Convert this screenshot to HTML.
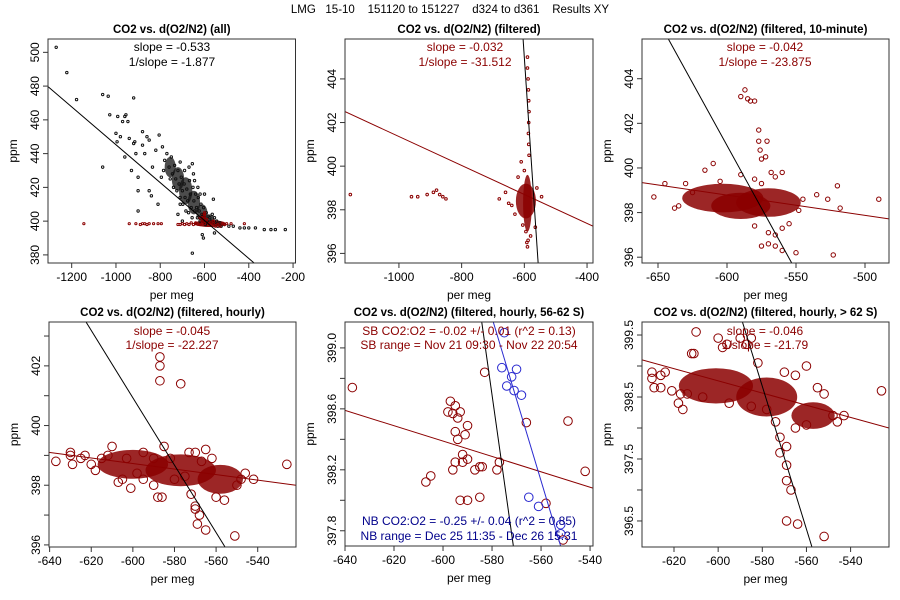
<!DOCTYPE html>
<html><head><meta charset="utf-8">
<style>
body{margin:0;background:#fff;}
svg{display:block;font-family:"Liberation Sans",Arial,sans-serif;}
</style></head>
<body>
<svg id="chart" width="900" height="600" viewBox="0 0 900 600">
<text x="450" y="13" text-anchor="middle" font-size="11.5" fill="#000" xml:space="preserve">LMG   15-10    151120 to 151227    d324 to d361    Results XY</text>
</svg>
<script>
// ---------- data ----------
const p1Black = [[-1270,503],[-1222,488],[-1178,472],[-1060,475],[-1035,474],[-920,473],[-1028,463],[-992,462],[-960,462],[-955,463],[-970,459],[-946,459],[-1000,452],[-980,450],[-880,453],[-850,448],[-860,450],[-805,451],[-995,447],[-940,449],[-920,446],[-915,447],[-880,445],[-870,440],[-820,442],[-790,444],[-960,438],[-910,440],[-1060,432],[-930,430],[-900,426],[-900,418],[-850,418],[-840,415],[-810,410],[-785,430],[-795,426],[-835,432],[-655,434],[-600,416],[-560,413],[-900,406],[-710,410],[-720,404],[-700,400],[-610,392],[-605,390],[-555,393],[-655,381],[-470,397],[-440,396],[-420,396],[-400,396],[-370,396],[-330,395],[-300,395],[-280,395],[-235,395],[-510,398],[-490,397],
[-780,436],[-770,440],[-760,432],[-755,425],[-750,438],[-745,428],[-740,420],[-735,433],[-730,425],[-725,418],[-720,430],[-715,422],[-710,414],[-705,426],[-700,418],[-698,410],[-692,422],[-688,414],[-684,406],[-680,419],[-676,412],[-672,405],[-668,424],[-664,416],[-660,408],[-656,402],[-652,420],[-648,412],[-644,406],[-640,416],[-636,408],[-632,402],[-628,414],[-624,406],[-620,400],[-616,410],[-612,404],[-608,400],[-604,408],[-600,402],[-596,398],[-592,405],[-588,400],[-584,403],[-580,399],[-576,402],[-570,400],[-565,404],[-560,399],[-555,402],[-550,398],[-545,400],[-540,397],[-530,399],[-525,397],[-690,430],[-710,435],[-650,428],[-670,432],[-630,420],[-620,416],[-645,424]];
const p1BlackBlobs = [[-755,432,25,6],[-720,425,28,7],[-685,418,30,8],[-648,411,28,7],[-612,405,25,5],[-575,401,20,3]];
const p1Red = [[-1145,398.5],[-940,398.5],[-910,398.5],[-890,398],[-880,398.5],[-870,398.5],[-860,398],[-850,398.5],[-830,398.5],[-810,398.5],[-795,398.5],[-700,398.5],[-680,398.5],[-660,399],[-640,398.5],[-620,398],[-600,398.5],[-580,398.5],[-560,398.5],[-540,398],[-520,398.5],[-500,398.5],[-480,398.5],[-420,398.5],[-600,404],[-600,402],[-600,405],[-590,401],[-610,400],[-620,402],[-575,399],[-560,400],[-550,397],[-530,397],[-510,398],[-640,399],[-650,398],[-670,398],[-690,398],[-710,398],[-720,398]];
const p1RedBlobs = [[-575,398.5,72,2],[-605,402,12,3]];

const p2Red = [[-1155,398.7],[-960,398.6],[-940,398.6],[-910,398.7],[-890,398.8],[-880,398.9],[-870,398.7],[-860,398.6],[-850,398.5],[-680,398.5],[-660,398.8],[-650,398.3],[-640,398.2],[-630,397.8],[-620,399.5],[-590,405],[-590,404.5],[-588,404],[-587,403.5],[-586,403],[-585,402.5],[-586,402],[-587,401.5],[-586,401],[-585,400.5],[-592,396.5],[-590,396.3],[-588,396.6],[-595,397],[-580,396.8],[-565,397.2],[-545,398.6],[-610,400.2],[-605,397.3],[-600,399.8],[-560,399]];
const p2RedBlobs = [[-595,398.4,32,0.8],[-590,398.3,14,1.3]];

const p3Red = [[-653,398.7],[-645,399.3],[-630,399.3],[-635,398.3],[-616,399.9],[-610,400.2],[-605,399.4],[-590,399.7],[-580,399.5],[-575,399.3],[-587,403.5],[-590,403.2],[-585,403.1],[-583,403.0],[-580,403.0],[-577,401.7],[-577,401.2],[-576,400.8],[-571,401.2],[-572,400.5],[-575,400.4],[-568,399.8],[-565,399.6],[-560,399.8],[-545,398.6],[-535,398.8],[-527,398.6],[-520,399.2],[-518,398.2],[-490,398.6],[-548,398.1],[-555,397.5],[-560,397.3],[-575,396.5],[-570,396.6],[-565,396.5],[-560,396.3],[-550,396.2],[-523,396.1],[-580,397.4],[-570,397.1],[-565,397.0],[-638,398.2],[-625,398.9]];
const p3RedBlobs = [[-603,398.65,28,0.55],[-570,398.45,22,0.55],[-590,398.3,20,0.5]];

const p4Red = [[-637,398.8],[-630,399.1],[-630,399],[-629,398.7],[-625,398.9],[-623,399],[-620,398.7],[-618,398.5],[-615,398.9],[-612,399],[-610,399.3],[-607,398.1],[-605,398.2],[-601,397.9],[-587,401.5],[-587,402.3],[-587,402.0],[-577,401.4],[-585,399.3],[-582,398.9],[-573,399.1],[-570,399.1],[-565,399.2],[-562,398.9],[-567,398.8],[-575,398.3],[-572,397.7],[-570,397.3],[-570,397.2],[-568,397.0],[-565,396.5],[-569,396.7],[-551,396.3],[-560,397.6],[-556,397.5],[-548,398.2],[-542,398.2],[-526,398.7],[-550,398.0],[-546,398.4],[-590,398.0],[-595,398.2],[-598,398.4],[-588,397.6],[-586,397.6],[-580,398.2],[-603,398.9],[-595,399.1],[-590,398.9]];
const p4RedBlobs = [[-600,398.7,15,0.35],[-577,398.5,15,0.4],[-558,398.2,9,0.35]];

const p5Red = [[-637,398.74],[-597,398.65],[-595,398.62],[-598,398.58],[-596,398.57],[-593,398.58],[-594,398.54],[-590,398.49],[-595,398.45],[-591,398.43],[-594,398.4],[-592,398.3],[-595,398.25],[-592,398.25],[-590,398.27],[-596,398.2],[-587,398.2],[-585,398.22],[-584,398.22],[-578,398.2],[-577,398.25],[-583,398.84],[-566,398.51],[-549,398.52],[-542,398.19],[-607,398.12],[-605,398.16],[-593,398.0],[-590,398.0],[-585,398.02],[-558,397.98],[-551,397.74]];
const p5Blue = [[-576,398.87],[-570,398.86],[-572,398.81],[-574,398.75],[-571,398.72],[-568,398.69],[-575,399.1],[-565,398.02],[-561,397.96],[-552,397.84],[-552,397.78]];

const p6Red = [[-630,398.9],[-630,398.8],[-626,398.85],[-624,398.9],[-629,398.65],[-626,398.65],[-621,398.6],[-618,398.4],[-617,398.55],[-616,398.3],[-614,398.55],[-610,399.55],[-612,399.2],[-611,399.2],[-600,399.45],[-598,399.3],[-596,399.35],[-590,399.45],[-587,399.35],[-585,399.45],[-582,399.05],[-570,398.9],[-565,398.85],[-560,399.0],[-555,398.65],[-552,398.55],[-548,398.2],[-546,398.1],[-543,398.2],[-526,398.6],[-574,398.1],[-572,397.85],[-569,397.7],[-572,397.6],[-569,397.4],[-569,397.15],[-567,397.0],[-569,396.5],[-564,396.45],[-552,396.25],[-578,398.3],[-595,398.4],[-607,398.5],[-585,398.35],[-565,398.0],[-560,398.05]];
const p6RedBlobs = [[-601,398.68,15,0.22],[-578,398.5,12,0.25],[-557,398.2,8,0.15]];

// fit lines: [x1,y1,x2,y2] in data units
const p1Line = [-1307,479.7,-376,375.2];
const p2RedLine = [-1172,402.5,-381,397.25];
const p2BlackLine = [-604,405.83,-556,395.56];
const p3RedLine = [-661.6,399.34,-482.6,397.72];
const p3BlackLine = [-642.5,405.78,-553.1,395.74];
const p4RedLine = [-640.3,399.1,-521.6,398.0];
const p4BlackLine = [-622.5,403.47,-555.7,395.93];
const p5RedLine = [-640,398.59,-538.8,398.08];
const p5BlackLine = [-584.2,399.17,-571.3,397.70];
const p5BlueLine = [-579.5,399.17,-552.0,397.70];
const p6RedLine = [-634.5,399.10,-522.6,398.0];
const p6BlackLine = [-589,399.71,-557.5,396.08];

// ---------- drawing ----------
const NS='http://www.w3.org/2000/svg';
const svg=document.getElementById('chart');
const RED='#8b0000', BLUE='#2a2ad0';
function el(tag,attrs,parent){const e=document.createElementNS(NS,tag);for(const k in attrs)e.setAttribute(k,attrs[k]);(parent||svg).appendChild(e);return e;}

function panel(cfg){
  const g=el('g',{});
  
  
  const {L,R,T,B,x0,x1,y0,y1}=cfg;
  const sx=v=>L+(v-x0)/(x1-x0)*(R-L);
  const sy=v=>B-(v-y0)/(y1-y0)*(B-T);
  const cp='cp'+cfg.name;
  const defs=el('defs',{},g);
  const c=el('clipPath',{id:cp},defs);el('rect',{x:L,y:T,width:R-L,height:B-T},c);
  const plot=el('g',{'clip-path':'url(#'+cp+')'},g);
  (cfg.blobs||[]).forEach(b=>{
    const e=el('ellipse',{cx:sx(b[1][0]),cy:sy(b[1][1]),rx:b[1][2]/(x1-x0)*(R-L)+(cfg.pad||0),ry:b[1][3]/(y1-y0)*(B-T)+(cfg.pad||0),fill:b[0],opacity:b[2]||0.85},plot);
    
    
  });
  (cfg.points||[]).forEach(s=>{
    s.data.forEach(p=>{
      const ci=el('circle',{cx:sx(p[0]),cy:sy(p[1]),r:s.r,fill:s.fill||'none',stroke:s.color,'stroke-width':s.sw||1},plot);
      
      
    });
  });
  (cfg.lines||[]).forEach(ln=>{
    const d=ln[1];
    const l=el('line',{x1:sx(d[0]),y1:sy(d[1]),x2:sx(d[2]),y2:sy(d[3]),stroke:ln[0],'stroke-width':1},plot);
    
    
  });
  const box=el('rect',{x:L,y:T,width:R-L,height:B-T,fill:'none',stroke:'#333','stroke-width':1},g);
  
  
  cfg.xticks.forEach(v=>{
    const x=sx(v);
    el('line',{x1:x,y1:B,x2:x,y2:B+5,stroke:'#333'},g);
    const t=el('text',{x:x,y:B+18,'text-anchor':'middle','font-size':12},g);
    t.textContent=v;
    
    
  });
  cfg.yticks.forEach(v=>{
    const y=sy(v);
    el('line',{x1:L,y1:y,x2:L-5,y2:y,stroke:'#333'},g);
  });
  cfg.ylabels.forEach(v=>{
    const y=sy(+v);
    const t=el('text',{x:L-9,y:y,'text-anchor':'middle','font-size':12,transform:'rotate(-90 '+(L-9)+' '+y+')'},g);
    t.textContent=v;
    
    
  });
  const cx=(L+R)/2;
  const tt=el('text',{x:cx,y:T-6,'text-anchor':'middle','font-size':11.5,'font-weight':'bold'},g);
  tt.textContent=cfg.title;
  
  
  const xl=el('text',{x:cx,y:B+36,'text-anchor':'middle','font-size':12},g);
  xl.textContent='per meg';
  
  
  const yl=el('text',{x:L-31,y:(T+B)/2,'text-anchor':'middle','font-size':12,transform:'rotate(-90 '+(L-31)+' '+((T+B)/2)+')'},g);
  yl.textContent='ppm';
  
  
  (cfg.notes||[]).forEach(n=>{
    const a=el('text',{x:n[3]||cx,y:n[1],'text-anchor':'middle','font-size':12,fill:n[2]},g);
    a.textContent=n[0];
    
    
  });
}
const rng=(a,b,s)=>{const r=[];for(let v=a;v<=b+1e-9;v+=s)r.push(+v.toFixed(2));return r;};

panel({name:'panel-all',L:48,R:295.5,T:39,B:263,x0:-1307,x1:-189,y0:375.2,y1:507.9,
  xticks:rng(-1200,-200,200),yticks:rng(380,500,20),ylabels:['380','400','420','440','460','480','500'],
  title:'CO2 vs. d(O2/N2) (all)',
  blobs:[...p1BlackBlobs.map(b=>['#111',b,0.75]),...p1RedBlobs.map(b=>[RED,b,0.95])],
  points:[{data:p1Black,color:'#111',r:1.2},{data:p1Red,color:RED,r:1.1}],
  lines:[['#000',p1Line]],
  notes:[['slope = -0.533',51,'#000',172],['1/slope = -1.877',66,'#000',172]]});

panel({name:'panel-filtered',L:345,R:593,T:39,B:263,x0:-1172,x1:-381,y0:395.56,y1:405.83,
  xticks:rng(-1000,-400,200),yticks:rng(396,404,2),ylabels:['396','398','400','402','404'],
  title:'CO2 vs. d(O2/N2) (filtered)',
  blobs:p2RedBlobs.map(b=>[RED,b]),
  points:[{data:p2Red,color:RED,r:1.3}],
  lines:[[RED,p2RedLine],['#000',p2BlackLine]],
  notes:[['slope = -0.032',51,RED,465],['1/slope = -31.512',66,RED,465]]});

panel({name:'panel-10-minute',L:642,R:889,T:39,B:263,x0:-661.6,x1:-482.6,y0:395.74,y1:405.78,pad:2,
  xticks:rng(-650,-500,50),yticks:rng(396,404,2),ylabels:['396','398','400','402','404'],
  title:'CO2 vs. d(O2/N2) (filtered, 10-minute)',
  blobs:p3RedBlobs.map(b=>[RED,b]),
  points:[{data:p3Red,color:RED,r:2.2}],
  lines:[[RED,p3RedLine],['#000',p3BlackLine]],
  notes:[['slope = -0.042',51,RED,765],['1/slope = -23.875',66,RED,765]]});

panel({name:'panel-hourly',L:49,R:296,T:322,B:547,x0:-640.3,x1:-521.6,y0:395.93,y1:403.47,pad:4,
  xticks:rng(-640,-540,20),yticks:rng(396,403,1),ylabels:['396','398','400','402'],
  title:'CO2 vs. d(O2/N2) (filtered, hourly)',
  blobs:p4RedBlobs.map(b=>[RED,b]),
  points:[{data:p4Red,color:RED,r:4.3}],
  lines:[[RED,p4RedLine],['#000',p4BlackLine]],
  notes:[['slope = -0.045',335,RED,172],['1/slope = -22.227',349,RED,172]]});

panel({name:'panel-hourly-56-62s',L:345,R:593,T:322,B:546,x0:-640,x1:-538.8,y0:397.70,y1:399.17,
  xticks:rng(-640,-540,20),yticks:rng(397.8,399.0,0.2),ylabels:['397.8','398.2','398.6','399.0'],
  title:'CO2 vs. d(O2/N2) (filtered, hourly, 56-62 S)',
  points:[{data:p5Red,color:RED,r:4.3},{data:p5Blue,color:BLUE,r:4.3}],
  lines:[[RED,p5RedLine],['#000',p5BlackLine],[BLUE,p5BlueLine]],
  notes:[['SB CO2:O2 = -0.02 +/- 0.01 (r^2 = 0.13)',335,RED,469],['SB range = Nov 21 09:30 - Nov 22 20:54',349,RED,469],
         ['NB CO2:O2 = -0.25 +/- 0.04 (r^2 = 0.85)',525,'#00008b',469],['NB range = Dec 25 11:35 - Dec 26 15:31',540,'#00008b',469]]});

panel({name:'panel-hourly-gt-62s',L:642,R:889,T:322,B:547,x0:-634.5,x1:-522.6,y0:396.08,y1:399.71,pad:4,
  xticks:rng(-620,-540,20),yticks:rng(396.5,399.5,0.5),ylabels:['396.5','397.5','398.5','399.5'],
  title:'CO2 vs. d(O2/N2) (filtered, hourly, > 62 S)',
  blobs:p6RedBlobs.map(b=>[RED,b]),
  points:[{data:p6Red,color:RED,r:4.3}],
  lines:[[RED,p6RedLine],['#000',p6BlackLine]],
  notes:[['slope = -0.046',335,RED,765],['1/slope = -21.79',349,RED,765]]});
</script>
</body></html>
